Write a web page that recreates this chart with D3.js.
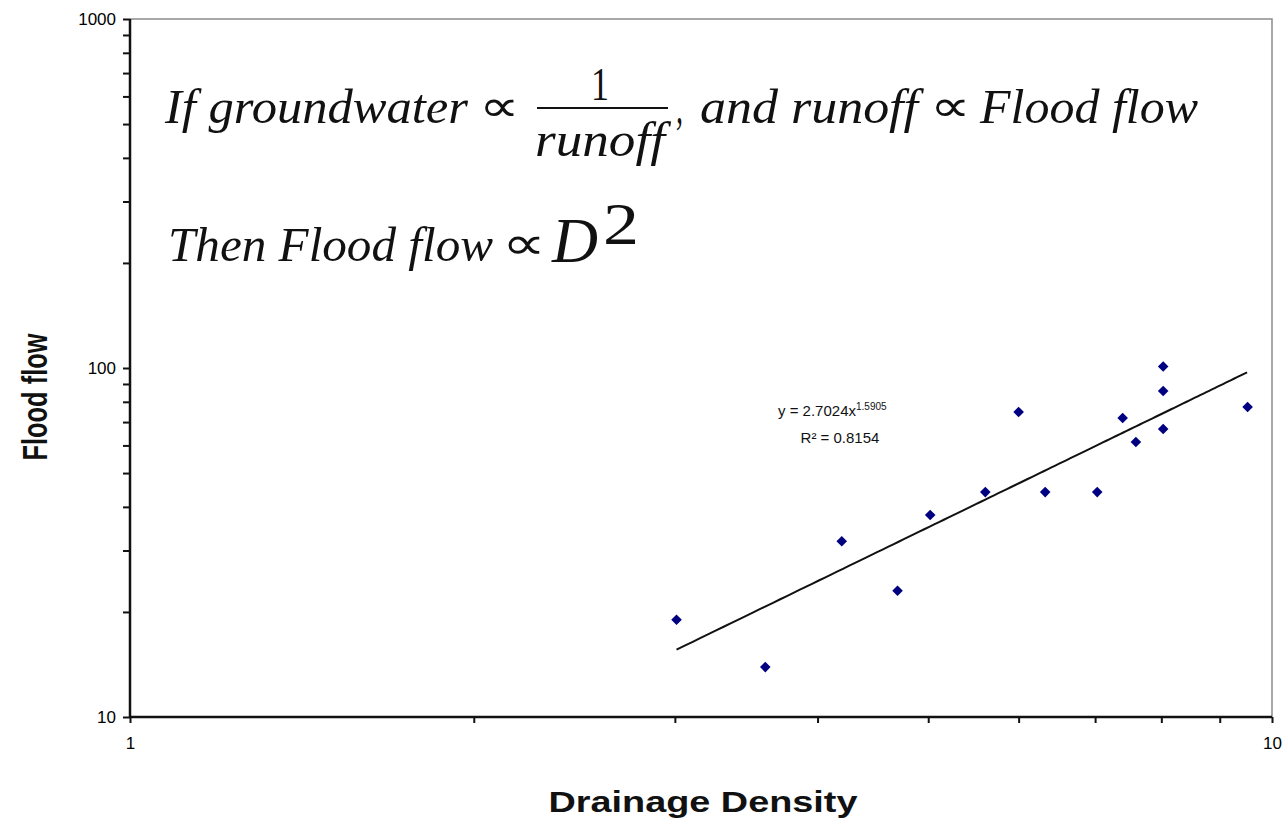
<!DOCTYPE html>
<html lang="en">
<head>
    <meta charset="UTF-8">
    <title>Flood flow vs Drainage Density</title>
    <script src="https://cdnjs.cloudflare.com/ajax/libs/d3/7.8.5/d3.min.js"></script>
    <style>
        body { margin: 0; background: #fff; }
        svg text { font-family: "Liberation Sans", Arial, sans-serif; }
        .serif { font-family: "Liberation Serif", "Times New Roman", serif; font-style: italic; }
    </style>
</head>
<body>

<script>
    // drainage density (x) and flood flow (y)
    var density = [3.01, 3.60, 4.20, 4.70, 5.02, 5.61, 6.00, 6.33, 7.03, 7.40, 7.60, 8.03, 8.03, 8.03, 9.52];
    var floodFlow = [19.0, 13.9, 31.9, 23.0, 37.9, 44.1, 74.8, 44.1, 44.1, 71.9, 61.4, 101, 85.9, 66.9, 77.3];

    // power trendline y = a * x^b as printed on the chart
    var trendCoef = [2.7024, 1.5905];
    var trendRange = [3.01, 9.52];

    var xTicks = [1, 2, 3, 4, 5, 6, 7, 8, 9, 10];
    var yTicks = [10, 20, 30, 40, 50, 60, 70, 80, 90, 100,
                  200, 300, 400, 500, 600, 700, 800, 900, 1000];
    var xLabels = [1, 10];
    var yLabels = [10, 100, 1000];

    var width = 1286,
        height = 821,
        plotLeft = 130, plotRight = 1272, plotTop = 19, plotBottom = 717;

    var svg = d3.select("body").append("svg")
            .attr("width", width)
            .attr("height", height);

    var x = d3.scaleLog().domain([1, 10]).range([plotLeft, plotRight]);
    var y = d3.scaleLog().domain([10, 1000]).range([plotBottom, plotTop]);

    // top and right frame lines
    svg.append("path")
            .attr("d", "M" + plotLeft + "," + plotTop + "H" + plotRight + "V" + plotBottom)
            .attr("fill", "none").attr("stroke", "#8c8c8c").attr("stroke-width", 1.5);

    var xAxis = d3.axisBottom(x).tickValues(xTicks).tickSize(6).tickPadding(14)
            .tickFormat(function(d) { return xLabels.indexOf(d) >= 0 ? d : ""; });
    var yAxis = d3.axisLeft(y).tickValues(yTicks).tickSize(7).tickPadding(7)
            .tickFormat(function(d) { return yLabels.indexOf(d) >= 0 ? d : ""; });

    var gx = svg.append("g").attr("transform", "translate(0," + plotBottom + ")").call(xAxis);
    var gy = svg.append("g").attr("transform", "translate(" + plotLeft + ",0)").call(yAxis);

    [gx, gy].forEach(function(g) {
        g.select(".domain").attr("stroke", "#111").attr("stroke-width", 2.5);
        g.selectAll(".tick line").attr("stroke", "#111").attr("stroke-width", 2);
        g.selectAll(".tick text").attr("fill", "#000")
                .style("font-family", "'Liberation Sans', Arial, sans-serif").style("font-size", "17px");
    });
    // plain axis lines, no end caps
    gx.select(".domain").attr("d", "M" + plotLeft + ",0H" + plotRight);
    gy.select(".domain").attr("d", "M0," + plotTop + "V" + plotBottom);

    // trend line
    var trendX = d3.range(trendRange[0], trendRange[1] + 0.001, 0.05);
    var trend = d3.line()
            .x(function(d) { return x(d); })
            .y(function(d) { return y(trendCoef[0] * Math.pow(d, trendCoef[1])); });
    svg.append("path").datum(trendX)
            .attr("d", trend)
            .attr("fill", "none").attr("stroke", "#111").attr("stroke-width", 2);

    // points
    var pts = density.map(function(d, i) { return [d, floodFlow[i]]; });
    svg.selectAll("path.pt").data(pts)
            .enter().append("path").attr("class", "pt")
            .attr("d", d3.symbol(d3.symbolSquare, 56))
            .attr("transform", function(d) { return "translate(" + x(d[0]) + "," + y(d[1]) + ") rotate(45)"; })
            .attr("fill", "#000080");

    // trend equation
    var eq = svg.append("text").attr("x", 778).attr("y", 416).style("font-size", "15px").attr("fill", "#111");
    eq.append("tspan").text("y = 2.7024x");
    eq.append("tspan").attr("dy", -6).style("font-size", "10px").text("1.5905");
    svg.append("text").attr("x", 840).attr("y", 443).attr("text-anchor", "middle")
            .style("font-size", "15px").attr("fill", "#111").text("R\u00b2 = 0.8154");

    // axis titles
    svg.append("text").attr("x", 703).attr("y", 812).attr("text-anchor", "middle")
            .attr("textLength", 309).attr("lengthAdjust", "spacingAndGlyphs")
            .style("font-size", "30px").style("font-weight", "bold").attr("fill", "#111")
            .text("Drainage Density");
    svg.append("text").attr("transform", "translate(47,397) scale(1.3,1) rotate(-90)").attr("text-anchor", "middle")
            .attr("textLength", 127).attr("lengthAdjust", "spacingAndGlyphs")
            .style("font-size", "27px").style("font-weight", "bold").attr("fill", "#111")
            .text("Flood flow");

    // annotation, each piece fitted to its width in the chart
    var note = svg.append("g").attr("fill", "#111");
    function piece(txt, px, py, len, size, cls) {
        return note.append("text").attr("class", cls || "serif")
                .attr("x", px).attr("y", py)
                .attr("textLength", len).attr("lengthAdjust", "spacingAndGlyphs")
                .style("font-size", size + "px").text(txt);
    }
    piece("If  groundwater", 165, 123, 303, 48);
    piece("\u221d", 479, 121, 40, 44, "sym");
    piece("1", 591, 100, 18, 46, "upright");
    note.append("line").attr("x1", 537).attr("x2", 668).attr("y1", 108).attr("y2", 108)
            .attr("stroke", "#111").attr("stroke-width", 2);
    piece("runoff", 535, 156, 130, 48);
    piece(",", 676, 123, 7, 48);
    piece("and runoff", 700, 123, 218, 48);
    piece("\u221d", 930, 121, 40, 44, "sym");
    piece("Flood  flow", 980, 123, 218, 48);
    piece("Then Flood  flow", 168, 261, 325, 48);
    piece("\u221d", 502, 259, 44, 46, "sym");
    piece("D", 552, 262, 46, 64);
    piece("2", 603, 244, 36, 60, "upright");
    note.selectAll("text.upright, text.sym").style("font-family", "'Liberation Serif', 'Times New Roman', serif");
</script>

</body>
</html>
